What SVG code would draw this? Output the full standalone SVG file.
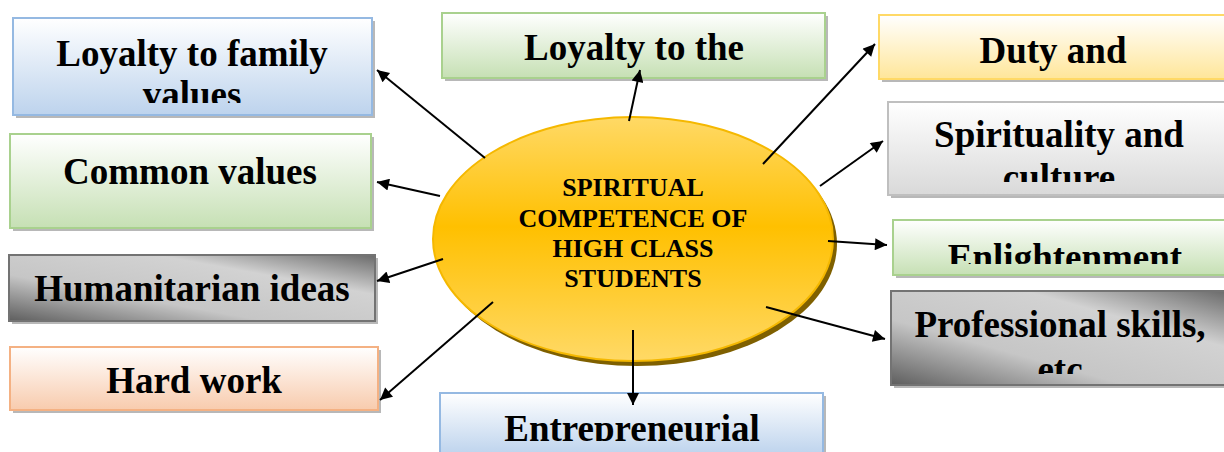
<svg xmlns="http://www.w3.org/2000/svg" width="1224" height="452" viewBox="0 0 1224 452">
<defs>
<linearGradient id="gBlue" x1="0" y1="0" x2="0" y2="1"><stop offset="0" stop-color="#ffffff"/><stop offset="1" stop-color="#bdd3ed"/></linearGradient>
<linearGradient id="gGreen" x1="0" y1="0" x2="0" y2="1"><stop offset="0" stop-color="#ffffff"/><stop offset="1" stop-color="#c6e0b4"/></linearGradient>
<linearGradient id="gOrange" x1="0" y1="0" x2="0" y2="1"><stop offset="0" stop-color="#ffffff"/><stop offset="1" stop-color="#f8cbad"/></linearGradient>
<linearGradient id="gYellow" x1="0" y1="0" x2="0" y2="1"><stop offset="0" stop-color="#ffffff"/><stop offset="1" stop-color="#ffe699"/></linearGradient>
<linearGradient id="gLight" x1="0" y1="0" x2="0" y2="1"><stop offset="0" stop-color="#ffffff"/><stop offset="1" stop-color="#d9d9d9"/></linearGradient>
<linearGradient id="gChrome" x1="0" y1="1" x2="1" y2="0"><stop offset="0" stop-color="#5e5e5e"/><stop offset="0.35" stop-color="#c6c6c6"/><stop offset="0.7" stop-color="#d2d2d2"/><stop offset="1" stop-color="#6a6a6a"/></linearGradient>
<linearGradient id="gSun" x1="0" y1="0" x2="0" y2="1"><stop offset="0" stop-color="#ffd966"/><stop offset="0.45" stop-color="#ffc000"/><stop offset="1" stop-color="#ffd966"/></linearGradient>
<marker id="arr" viewBox="0 0 10 10" refX="10" refY="5" markerWidth="7.5" markerHeight="6" markerUnits="strokeWidth" orient="auto"><path d="M0,0 L10,5 L0,10 Z" fill="#000"/></marker>
<clipPath id="c1"><rect x="13" y="18" width="359" height="85"/></clipPath>
<clipPath id="c6"><rect x="888" y="102" width="336" height="80"/></clipPath>
<clipPath id="c7"><rect x="893" y="220" width="331" height="44"/></clipPath>
<clipPath id="c8"><rect x="891" y="291" width="333" height="83"/></clipPath>
<clipPath id="c10"><rect x="440" y="393" width="383" height="48"/></clipPath>
</defs>
<style>
.t{font-family:"Liberation Serif","Times New Roman",serif;font-weight:bold;font-size:37px;fill:#000;text-anchor:middle}
.c{font-family:"Liberation Serif","Times New Roman",serif;font-weight:bold;font-size:26px;fill:#000;text-anchor:middle}
.sh{fill:#a6a6a6;opacity:0.8}
.b{stroke-width:2}
.ln{stroke:#000;stroke-width:2;fill:none;marker-end:url(#arr)}
</style>
<rect width="1224" height="452" fill="#fff"/>

<g id="n-family">
<rect class="sh" x="16" y="21" width="359" height="97"/>
<rect class="b" x="13" y="18" width="359" height="97" fill="url(#gBlue)" stroke="#95b9e2"/>
<g clip-path="url(#c1)"><text class="t" x="192" y="66">Loyalty to family</text><text class="t" x="192" y="107">values</text></g>
</g>
<g id="n-common">
<rect class="sh" x="13" y="137" width="361" height="94"/>
<rect class="b" x="10" y="134" width="361" height="94" fill="url(#gGreen)" stroke="#a9d18e"/>
<text class="t" x="190" y="184">Common values</text>
</g>
<g id="n-human">
<rect class="sh" x="12" y="258" width="366" height="66"/>
<rect class="b" x="9" y="255" width="366" height="66" fill="url(#gChrome)" stroke="#737373"/>
<text class="t" x="192" y="301">Humanitarian ideas</text>
</g>
<g id="n-hard">
<rect class="sh" x="13" y="350" width="368" height="63"/>
<rect class="b" x="10" y="347" width="368" height="63" fill="url(#gOrange)" stroke="#f4b183"/>
<text class="t" x="194" y="393">Hard work</text>
</g>
<g id="n-loyalty">
<rect class="sh" x="445" y="16" width="383" height="65"/>
<rect class="b" x="442" y="13" width="383" height="65" fill="url(#gGreen)" stroke="#a9d18e"/>
<text class="t" x="634" y="60">Loyalty to the</text>
</g>
<g id="n-entre">
<rect class="sh" x="443" y="396" width="383" height="60"/>
<rect class="b" x="440" y="393" width="383" height="62" fill="url(#gBlue)" stroke="#95b9e2"/>
<g clip-path="url(#c10)"><text class="t" x="632" y="441">Entrepreneurial</text></g>
</g>
<g id="n-duty">
<rect class="sh" x="882" y="18" width="348" height="64"/>
<rect class="b" x="879" y="15" width="348" height="64" fill="url(#gYellow)" stroke="#ffd966"/>
<text class="t" x="1053" y="63">Duty and</text>
</g>
<g id="n-spirit">
<rect class="sh" x="891" y="105" width="340" height="93"/>
<rect class="b" x="888" y="102" width="340" height="93" fill="url(#gLight)" stroke="#bfbfbf"/>
<g clip-path="url(#c6)"><text class="t" x="1059" y="147">Spirituality and</text><text class="t" x="1059" y="190">culture</text></g>
</g>
<g id="n-enlight">
<rect class="sh" x="896" y="223" width="334" height="55"/>
<rect class="b" x="893" y="220" width="334" height="55" fill="url(#gGreen)" stroke="#a9d18e"/>
<g clip-path="url(#c7)"><text class="t" x="1065" y="270">Enlightenment</text></g>
</g>
<g id="n-prof">
<rect class="sh" x="894" y="294" width="336" height="94"/>
<rect class="b" x="891" y="291" width="336" height="94" fill="url(#gChrome)" stroke="#737373"/>
<g clip-path="url(#c8)"><text class="t" x="1060" y="337">Professional skills,</text><text class="t" x="1060" y="382">etc</text></g>
</g>

<g id="n-center">
<ellipse cx="637" cy="244" rx="200" ry="122" fill="#7f6000"/>
<ellipse cx="633" cy="239" rx="200" ry="122" fill="url(#gSun)" stroke="#f5b800" stroke-width="2"/>
<text class="c" x="633" y="196">SPIRITUAL</text>
<text class="c" x="633" y="227">COMPETENCE OF</text>
<text class="c" x="633" y="257">HIGH CLASS</text>
<text class="c" x="633" y="287">STUDENTS</text>
</g>

<g id="connectors">
<line class="ln" x1="485" y1="158" x2="377" y2="70"/>
<line class="ln" x1="440" y1="196" x2="377" y2="182"/>
<line class="ln" x1="443" y1="259" x2="377" y2="281"/>
<line class="ln" x1="493" y1="302" x2="380" y2="400"/>
<line class="ln" x1="629" y1="121" x2="640" y2="70"/>
<line class="ln" x1="633" y1="330" x2="633" y2="405"/>
<line class="ln" x1="763" y1="164" x2="875" y2="44"/>
<line class="ln" x1="820" y1="186" x2="883" y2="141"/>
<line class="ln" x1="828" y1="241" x2="887" y2="245"/>
<line class="ln" x1="766" y1="307" x2="885" y2="339"/>
</g>
</svg>
